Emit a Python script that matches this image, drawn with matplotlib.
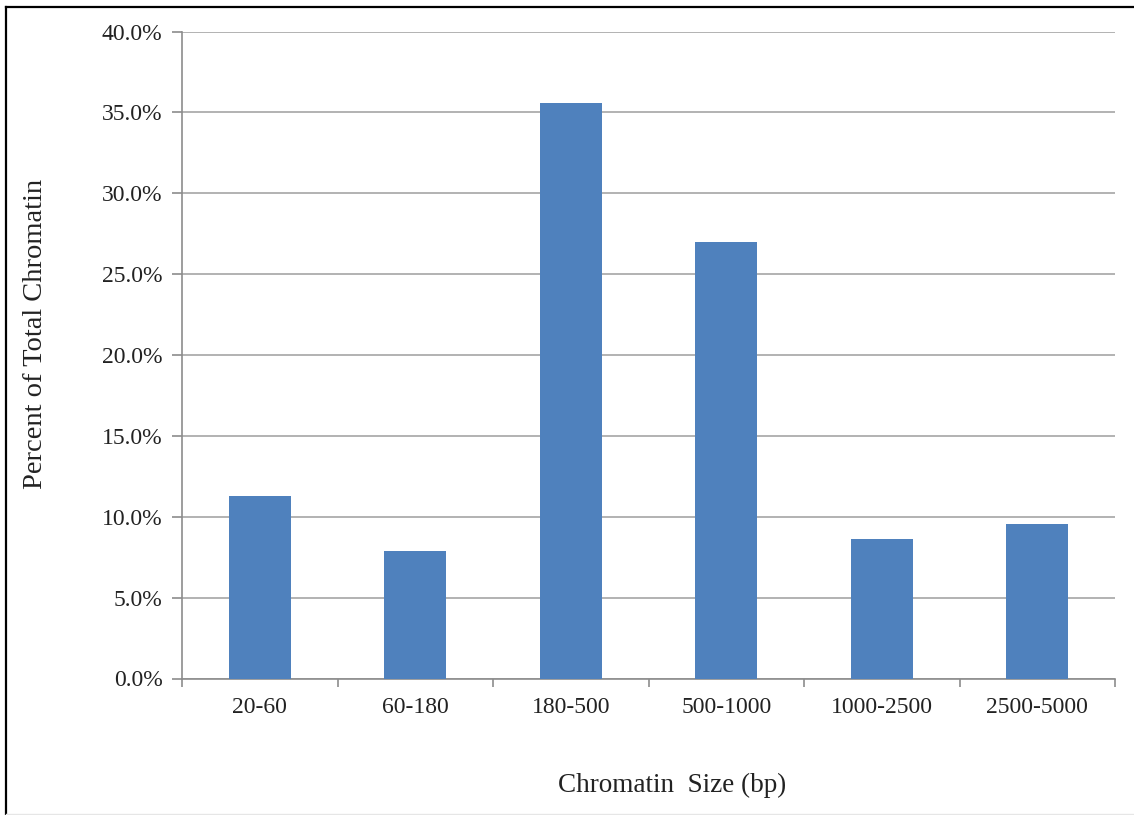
import numpy as np
import matplotlib.pyplot as plt
from matplotlib.lines import Line2D
from matplotlib.ticker import PercentFormatter

plt.rcParams['font.family'] = ['Liberation Serif', 'DejaVu Serif']

sizes = ['20-60', '60-180', '180-500', '500-1000', '1000-2500', '2500-5000']
percent = [11.3, 7.9, 35.6, 27.0, 8.6, 9.55]

fig = plt.figure(figsize=(11.34, 8.15), dpi=100)
ax = fig.add_axes([182 / 1134, 1 - 678.5 / 815, (1115 - 182) / 1134, (678.5 - 31.5) / 815])

x = np.arange(len(sizes))
ax.bar(x, percent, width=0.4, color='#4f81bd', zorder=3)

ax.set_xlim(-0.5, len(sizes) - 0.5)
ax.set_ylim(0, 40)
ax.set_yticks(np.arange(0, 40.1, 5))
ax.yaxis.set_major_formatter(PercentFormatter(decimals=1))
ax.set_xticks(x)
ax.set_xticklabels(sizes)
ax.set_xticks(np.arange(-0.5, len(sizes)), minor=True)

ax.grid(axis='y', color='#a6a6a6', linewidth=1.2, zorder=0)
for side in ['top', 'right']:
    ax.spines[side].set_visible(False)
for side in ['left', 'bottom']:
    ax.spines[side].set_color('#8c8c8c')
    ax.spines[side].set_linewidth(1.2)

ax.tick_params(axis='x', which='major', length=0, labelsize=17, pad=13, labelcolor='#222222')
ax.tick_params(axis='x', which='minor', length=6, color='#8c8c8c', width=1.2)
ax.tick_params(axis='y', length=7, color='#8c8c8c', width=1.2, labelsize=17, pad=7,
               labelcolor='#222222')

fig.text(672 / 1134, 1 - 785 / 815, 'Chromatin  Size (bp)', ha='center', va='center',
         fontsize=19.5, color='#222222')
fig.text(36 / 1134, 1 - 334 / 815, 'Percent of Total Chromatin', ha='center', va='center',
         rotation=90, fontsize=20.5, color='#222222')

# frame lines along the top and left edges
fig.add_artist(Line2D([6 / 1134, 1], [1 - 7 / 815, 1 - 7 / 815], color='black', linewidth=1.6))
fig.add_artist(Line2D([6 / 1134, 6 / 1134], [0, 1 - 7 / 815], color='black', linewidth=1.6))
fig.add_artist(Line2D([6 / 1134, 1], [1 / 815, 1 / 815], color='#e6e6e6', linewidth=1))

fig.savefig('out.png', dpi=100)
